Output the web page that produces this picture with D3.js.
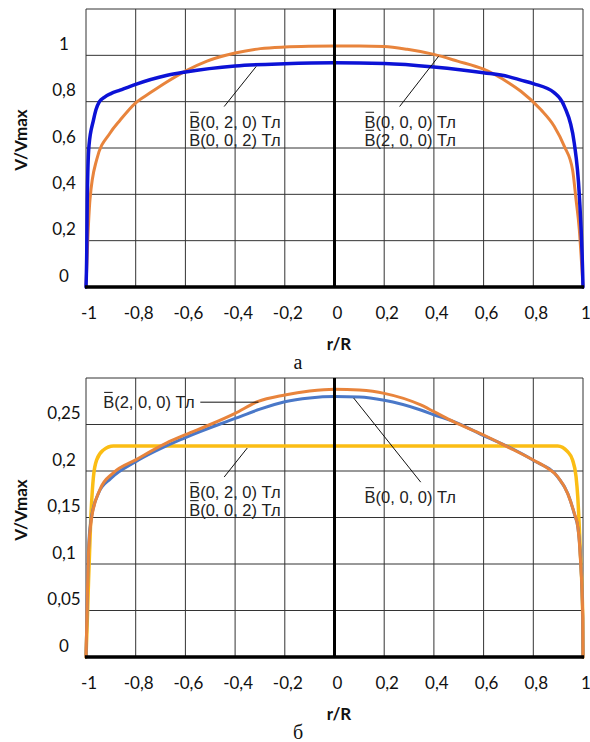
<!DOCTYPE html>
<html>
<head>
<meta charset="utf-8">
<script src="https://cdn.jsdelivr.net/npm/d3@7/dist/d3.min.js"></script>
<style>
  html, body { margin: 0; padding: 0; background: #fff; }
  svg { display: block; }
</style>
</head>
<body>
<svg id="fig" width="590" height="742"></svg>
<script>
// ---- Panel а: velocity profiles, V/Vmax vs r/R ----
const xTicks = [-1, -0.8, -0.6, -0.4, -0.2, 0, 0.2, 0.4, 0.6, 0.8, 1];

const aTicks = [0, 0.2, 0.4, 0.6, 0.8, 1];
const aGrid  = [0, 0.2, 0.4, 0.6, 0.8, 1, 1.2];

// B(0,0,0) / B(2,0,0)
const aOrangeR = [-1, -0.993, -0.984, -0.957, -0.903, -0.863, -0.8, -0.742, -0.675, -0.6, -0.513, -0.4, -0.298, -0.2, -0.1, 0, 0.1, 0.2, 0.293, 0.4, 0.495, 0.6, 0.7, 0.75, 0.83, 0.884, 0.925, 0.958, 0.972, 0.985, 0.995, 1];
const aOrangeV = [0, 0.2, 0.377, 0.55, 0.665, 0.72, 0.795, 0.838, 0.885, 0.932, 0.975, 1.01, 1.029, 1.036, 1.039, 1.04, 1.04, 1.038, 1.026, 1.004, 0.975, 0.94, 0.882, 0.845, 0.766, 0.694, 0.607, 0.506, 0.377, 0.25, 0.09, 0];

// B(0,2,0) / B(0,0,2)
const aBlueR = [-1, -0.997, -0.995, -0.988, -0.97, -0.96, -0.946, -0.925, -0.9, -0.863, -0.8, -0.677, -0.6, -0.4, -0.2, 0, 0.2, 0.4, 0.6, 0.7, 0.75, 0.8, 0.884, 0.925, 0.965, 0.985, 0.999, 1];
const aBlueV = [0, 0.15, 0.377, 0.61, 0.72, 0.765, 0.80, 0.82, 0.835, 0.85, 0.875, 0.913, 0.928, 0.954, 0.964, 0.968, 0.965, 0.95, 0.925, 0.908, 0.893, 0.878, 0.839, 0.78, 0.62, 0.4, 0.045, 0];

// ---- Panel б ----
const bTicks = [0, 0.05, 0.1, 0.15, 0.2, 0.25];
const bGrid  = [0, 0.05, 0.1, 0.15, 0.2, 0.25, 0.3];

// B(2,0,0)
const bOrangeR = [-1, -0.995, -0.99, -0.977, -0.944, -0.89, -0.8, -0.677, -0.6, -0.5, -0.4, -0.31, -0.2, -0.1, 0, 0.1, 0.2, 0.347, 0.4, 0.4785, 0.6, 0.696, 0.8, 0.858, 0.898, 0.938, 0.965, 0.979, 0.989, 0.999, 1];
const bOrangeV = [0, 0.06, 0.112, 0.15, 0.18, 0.198, 0.212, 0.23, 0.239, 0.25, 0.262, 0.2745, 0.2817, 0.286, 0.288, 0.287, 0.2835, 0.271, 0.2638, 0.253, 0.2387, 0.226, 0.2118, 0.2029, 0.194, 0.176, 0.1545, 0.14, 0.108, 0.043, 0];

// B(0,0,0)
const bBlueR = [-1, -0.995, -0.99, -0.98, -0.95, -0.9, -0.8, -0.6, -0.4, -0.3, -0.2, -0.1, 0, 0.1, 0.2, 0.347, 0.4, 0.5, 0.6, 0.7, 0.8, 0.9, 0.94, 0.965, 0.98, 0.99, 0.999, 1];
const bBlueV = [0, 0.06, 0.115, 0.147, 0.176, 0.192, 0.21, 0.236, 0.2565, 0.2665, 0.2745, 0.2785, 0.28, 0.2795, 0.276, 0.2656, 0.2605, 0.251, 0.238, 0.226, 0.2115, 0.193, 0.175, 0.154, 0.138, 0.106, 0.04, 0];

// B(0,2,0) / B(0,0,2)
const bYellowR = [-1, -0.996, -0.99, -0.981, -0.97, -0.957, -0.93, -0.89, 0.898, 0.938, 0.958, 0.972, 0.979, 0.985, 0.989, 0.999, 1];
const bYellowV = [0, 0.03, 0.08, 0.147, 0.194, 0.212, 0.2226, 0.227, 0.227, 0.2208, 0.2118, 0.194, 0.172, 0.14, 0.115, 0.043, 0];

const ORANGE = "#E8843C";
const BLUE_A = "#0C12D6";
const BLUE_B = "#4A78C8";
const YELLOW = "#FBBD14";

const svg = d3.select("#fig");
const fmt = v => String(+v.toFixed(2)).replace(".", ",");
const SANS = "Lato, 'Open Sans', sans-serif";
const NOTE_FONT = "'Liberation Sans', Arial, sans-serif";
const NOTE_SIZE = 16.5;

function panel(cfg) {
  const x = d3.scaleLinear().domain([-1, 1]).range([86, 583]);
  const y = d3.scaleLinear().domain([0, cfg.yMax]).range([cfg.bottom, cfg.top]);
  const g = svg.append("g");

  // grid
  g.append("g").selectAll("line").data(xTicks).join("line")
    .attr("x1", d => x(d)).attr("x2", d => x(d))
    .attr("y1", y(0)).attr("y2", y(cfg.yMax))
    .attr("stroke", "#333").attr("stroke-width", 1);
  g.append("g").selectAll("line").data(cfg.grid).join("line")
    .attr("x1", x(-1)).attr("x2", x(1))
    .attr("y1", d => y(d)).attr("y2", d => y(d))
    .attr("stroke", "#333").attr("stroke-width", 1);

  // tick labels
  g.append("g").selectAll("text").data(xTicks).join("text")
    .attr("x", d => x(d) + 3).attr("y", cfg.bottom + 25)
    .attr("text-anchor", "middle").attr("dominant-baseline", "central")
    .attr("font-family", SANS).attr("font-size", 17)
    .attr("fill", "#111")
    .text(d => fmt(d));
  g.append("g").selectAll("text").data(cfg.ticks).join("text")
    .attr("x", 64).attr("y", d => y(d) - 12)
    .attr("text-anchor", "middle").attr("dominant-baseline", "central")
    .attr("font-family", SANS).attr("font-size", 17)
    .attr("fill", "#111")
    .text(d => fmt(d));

  // axis titles and panel letter
  g.append("text")
    .attr("transform", `translate(20,${cfg.yTitle}) rotate(-90)`)
    .attr("text-anchor", "middle").attr("dominant-baseline", "central")
    .attr("font-family", SANS).attr("font-weight", "bold")
    .attr("font-size", 17).attr("fill", "#111")
    .text("V/Vmax");
  g.append("text")
    .attr("x", 339).attr("y", cfg.bottom + 56)
    .attr("text-anchor", "middle").attr("dominant-baseline", "central")
    .attr("font-family", SANS).attr("font-weight", "bold")
    .attr("font-size", 17).attr("fill", "#111")
    .text("r/R");
  g.append("text")
    .attr("x", 298).attr("y", cfg.bottom + 75)
    .attr("text-anchor", "middle").attr("dominant-baseline", "central")
    .attr("font-family", "'Liberation Serif', 'DejaVu Serif', serif")
    .attr("font-size", 20).attr("fill", "#111")
    .text(cfg.letter);

  // curves
  const line = d3.line().x(d => x(d[0])).y(d => y(d[1])).curve(d3.curveMonotoneX);
  cfg.series.forEach(s => {
    g.append("path")
      .datum(d3.zip(s.r, s.v))
      .attr("d", line)
      .attr("fill", "none")
      .attr("stroke", s.color)
      .attr("stroke-width", s.width)
      .attr("stroke-linejoin", "round")
      .attr("stroke-linecap", "round");
  });

  // heavy axes drawn over the curves: r = 0 and V = 0
  g.append("line").attr("x1", x(0)).attr("x2", x(0))
    .attr("y1", y(0)).attr("y2", y(cfg.yMax))
    .attr("stroke", "#000").attr("stroke-width", 3);
  g.append("line").attr("x1", x(-1) - 1).attr("x2", x(1) + 1)
    .attr("y1", y(0)).attr("y2", y(0))
    .attr("stroke", "#000").attr("stroke-width", 3.5);

  // annotations with leader lines; the field vector B carries an overbar
  cfg.notes.forEach(n => {
    g.append("line")
      .attr("x1", x(n.from[0])).attr("y1", y(n.from[1]))
      .attr("x2", x(n.to[0])).attr("y2", y(n.to[1]))
      .attr("stroke", "#111").attr("stroke-width", 1);
    n.lines.forEach((s, i) => {
      const baseY = y(n.at[1]) + i * 18;
      const t = g.append("text")
        .attr("x", x(n.at[0])).attr("y", baseY)
        .attr("font-family", NOTE_FONT)
        .attr("font-size", NOTE_SIZE).attr("fill", "#222")
        .text(s);
      const ext = t.node().getExtentOfChar(0);
      const by = baseY - NOTE_SIZE * 0.93;
      g.append("line")
        .attr("x1", ext.x + 1).attr("x2", ext.x + ext.width - 1.5)
        .attr("y1", by).attr("y2", by)
        .attr("stroke", "#222").attr("stroke-width", 1.1);
    });
  });
}

panel({
  yMax: 1.2, top: 9, bottom: 287, grid: aGrid, ticks: aTicks, yTitle: 140, letter: "а",
  series: [
    { r: aOrangeR, v: aOrangeV, color: ORANGE, width: 3 },
    { r: aBlueR, v: aBlueV, color: BLUE_A, width: 3.5 }
  ],
  notes: [
    { from: [-0.444, 0.779], to: [-0.315, 0.952], at: [-0.585, 0.688],
      lines: ["B(0, 2, 0) Тл", "B(0, 0, 2) Тл"] },
    { from: [0.262, 0.779], to: [0.419, 0.996], at: [0.121, 0.688],
      lines: ["B(0, 0, 0) Тл", "B(2, 0, 0) Тл"] }
  ]
});

panel({
  yMax: 0.3, top: 378, bottom: 657, grid: bGrid, ticks: bTicks, yTitle: 510, letter: "б",
  series: [
    { r: bYellowR, v: bYellowV, color: YELLOW, width: 3.5 },
    { r: bBlueR, v: bBlueV, color: BLUE_B, width: 3 },
    { r: bOrangeR, v: bOrangeV, color: ORANGE, width: 3 }
  ],
  notes: [
    { from: [-0.54, 0.274], to: [-0.306, 0.274], at: [-0.931, 0.268],
      lines: ["B(2, 0, 0) Тл"] },
    { from: [-0.444, 0.1935], to: [-0.351, 0.2247], at: [-0.585, 0.171],
      lines: ["B(0, 2, 0) Тл", "B(0, 0, 2) Тл"] },
    { from: [0.347, 0.188], to: [0.077, 0.2785], at: [0.121, 0.1656],
      lines: ["B(0, 0, 0) Тл"] }
  ]
});
</script>
</body>
</html>
